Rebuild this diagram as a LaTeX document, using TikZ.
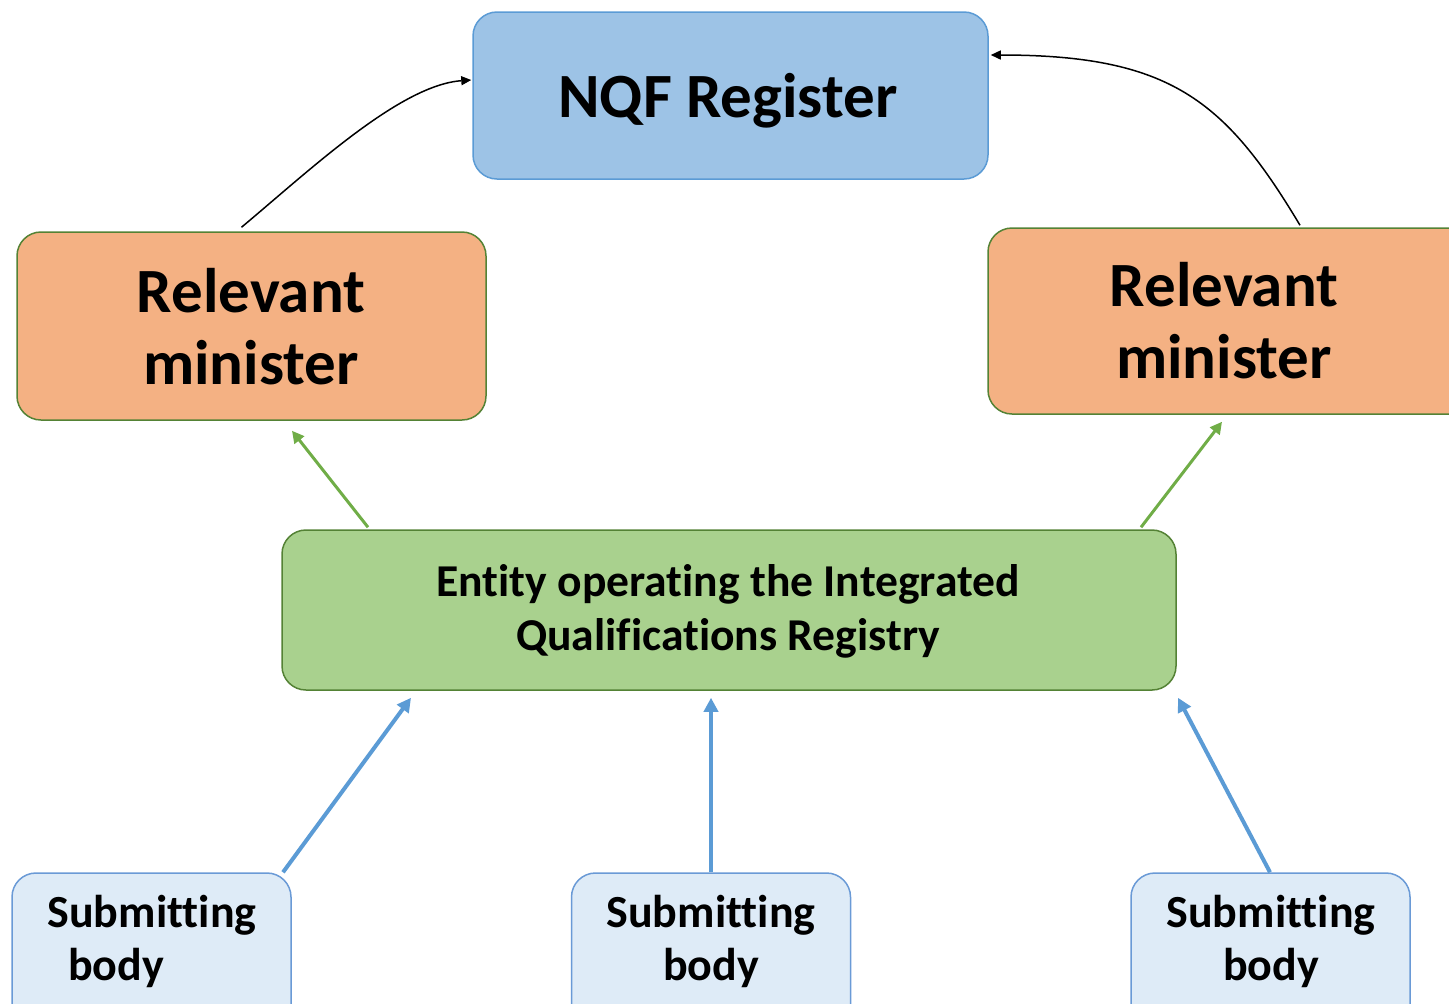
\documentclass[tikz,border=0pt]{standalone}
\usepackage{fontspec}
\setmainfont{Carlito}[Ligatures=NoCommon]
\usetikzlibrary{arrows.meta,calc}
\definecolor{nqffill}{HTML}{9DC3E6}
\definecolor{nqfline}{HTML}{5B9BD5}
\definecolor{minfill}{HTML}{F4B183}
\definecolor{grnline}{HTML}{548235}
\definecolor{entfill}{HTML}{A9D18E}
\definecolor{sbfill}{HTML}{DEEBF7}
\definecolor{sbline}{HTML}{6A9AD6}
\definecolor{bluearr}{HTML}{5B9BD5}
\definecolor{greenarr}{HTML}{70AD47}
\tikzset{
  boxbase/.style={rectangle, rounded corners=12pt, line width=0.75pt, inner sep=0pt},
  nqfbox/.style={boxbase, fill=nqffill, draw=nqfline},
  minbox/.style={boxbase, fill=minfill, draw=grnline},
  entbox/.style={boxbase, fill=entfill, draw=grnline},
  sbbox/.style={boxbase, fill=sbfill, draw=sbline, minimum width=139.5pt, minimum height=78.5pt},
  txt/.style={inner sep=0pt, anchor=base, align=center, font=\bfseries},
  blackarr/.style={line width=0.75pt, black, -{Triangle[length=5pt,width=4.5pt]}},
  greenarrow/.style={line width=1.5pt, greenarr, -{Triangle[length=6pt,width=6pt]}},
  bluearrow/.style={line width=2pt, bluearr, -{Triangle[length=7pt,width=7pt]}}
}
\begin{document}
\begin{tikzpicture}[x=0.5pt,y=-0.5pt]
\useasboundingbox (0,0) rectangle (1449,1003);
\begin{scope}
\clip (0,0) rectangle (1449,1003);
% boxes
\node[nqfbox, minimum width=257.5pt, minimum height=83.5pt] (nqf) at (730.5,95.5) {};
\node[minbox, minimum width=234.5pt, minimum height=94pt] (lm) at (251.5,326) {};
\node[minbox, minimum width=243.5pt, minimum height=93pt] (rm) at (1231.5,321) {};
\node[entbox, minimum width=447pt, minimum height=80pt] (ent) at (729,610) {};
\node[sbbox] (sb1) at (151.5,951.5) {};
\node[sbbox] (sb2) at (711,951.5) {};
\node[sbbox] (sb3) at (1270.5,951.5) {};
% texts (base anchor = baseline of the last line)
\node[txt, font=\bfseries\fontsize{31.5}{34}\selectfont] (nqft) at (728,117) {NQF Register};
\node[txt, font=\bfseries\fontsize{31.5}{36}\selectfont] (lmt) at (251,384) {Relevant\\minister};
\node[txt, font=\bfseries\fontsize{31.5}{36}\selectfont] (rmt) at (1224,378) {Relevant\\minister};
\node[txt, font=\bfseries\fontsize{22.8}{27}\selectfont] (entt) at (728,650) {Entity operating the Integrated\\Qualifications Registry};
\node[txt, font=\bfseries\fontsize{23}{26.5}\selectfont] (sb1t) at (152,980) {Submitting\\body\hspace*{36pt}};
\node[txt, font=\bfseries\fontsize{23}{26.5}\selectfont] (sb2t) at (711,980) {Submitting\\body};
\node[txt, font=\bfseries\fontsize{23}{26.5}\selectfont] (sb3t) at (1271,980) {Submitting\\body};
\end{scope}
% black curved connectors
\draw[blackarr] ($(lm.north)+(-10,-4)$) .. controls (310,170) and (400,85) .. ($(nqf.west)+(-1,-15.5)$);
\draw[blackarr] ($(rm.north)+(68.5,-2)$) .. controls (1225,100) and (1170,55) .. ($(nqf.east)+(2,-40.5)$);
% green arrows
\draw[greenarrow] ($(ent.north)+(-361,-2)$) -- ($(lm.south)+(40.5,10)$);
\draw[greenarrow] ($(ent.north)+(412,-2)$) -- ($(rm.south)+(-9.5,7)$);
% blue arrows
\draw[bluearrow] ($(sb1.north)+(131.5,0)$) -- ($(ent.south)+(-318,7)$);
\draw[bluearrow] (sb2.north) -- ($(ent.south)+(-18,7)$);
\draw[bluearrow] ($(sb3.north)+(-0.5,0)$) -- ($(ent.south)+(449,7)$);
\end{tikzpicture}
\end{document}
